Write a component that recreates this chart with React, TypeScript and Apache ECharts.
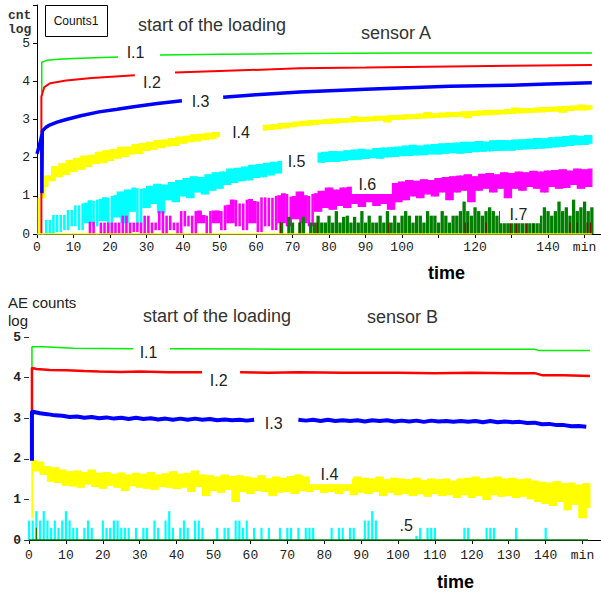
import React, { useEffect, useRef } from 'react';
import * as echarts from 'echarts';

// ================= TOP CHART (sensor A) =================
// minutes / log counts
const topL1Min = [1.3, 1.3, 2.7, 6, 10, 16, 22.2, 28, 33.7, 50, 72, 100, 152];
const topL1Val = [3.7, 4.5, 4.55, 4.58, 4.6, 4.62, 4.64, null, 4.69, 4.71, 4.73, 4.74, 4.74];

const topL2Min = [1.2, 1.2, 2, 3.6, 8, 15, 26.8, 32, 37.8, 50, 72, 90, 113, 130, 152];
const topL2Val = [0, 3.6, 3.85, 3.95, 4.02, 4.09, 4.16, null, 4.23, 4.27, 4.34, 4.36, 4.39, 4.41, 4.43];

const topL3Min = [0, 1, 1.3, 1.35, 1.45, 2.5, 3.6, 5.5, 8, 12, 17, 22, 26, 33, 39.7, 45, 51, 60, 72, 90, 113, 130, 140, 152];
const topL3Val = [2.1, 2.45, 2.6, 1.07, 2.7, 2.8, 2.86, 2.93, 3.0, 3.1, 3.2, 3.27, 3.33, 3.42, 3.49, null, 3.58, 3.65, 3.72, 3.79, 3.87, 3.9, 3.93, 3.96];

// one sample per minute, from minute 0 (alternating low / high edge of the noise)
const topL4Val = [
  0, 0.95, 1.25, 1.52, 1.4, 1.76, 1.5, 1.84, 1.56, 1.92,
  1.64, 1.98, 1.7, 2.04, 1.77, 2.06, 1.85, 2.14, 1.87, 2.18,
  1.93, 2.21, 1.99, 2.27, 2.03, 2.28, 2.1, 2.34, 2.11, 2.37,
  2.19, 2.4, 2.22, 2.45, 2.26, 2.46, 2.31, 2.5, 2.32, 2.54,
  2.38, 2.56, 2.42, 2.6, 2.44, 2.61, 2.47, 2.64, 2.5, 2.66,
  2.55, null, null, null, null, null, null, null, null, null,
  null, null, 2.72, 2.85, 2.74, 2.86, 2.76, 2.89, 2.78, 2.9,
  2.81, 2.93, 2.84, 2.95, 2.85, 2.97, 2.87, 2.98, 2.89, 2.99,
  2.9, 3.01, 2.91, 3.02, 2.93, 3.02, 2.94, 3.07, 2.95, 3.05,
  2.96, 3.06, 2.97, 3.08, 2.98, 3.08, 2.94, 3.1, 3.0, 3.1,
  3.01, 3.12, 3.02, 3.12, 3.03, 3.14, 3.04, 3.18, 3.05, 3.15,
  3.06, 3.17, 3.07, 3.18, 3.08, 3.18, 3.09, 3.2, 3.05, 3.21,
  3.11, 3.22, 3.12, 3.23, 3.13, 3.24, 3.14, 3.24, 3.15, 3.26,
  3.16, 3.3, 3.17, 3.28, 3.18, 3.28, 3.19, 3.3, 3.2, 3.31,
  3.21, 3.32, 3.22, 3.33, 3.19, 3.34, 3.24, 3.35, 3.25, 3.38,
  3.25, 3.36, 3.27,
];

// one sample per minute, from minute 0
const topL5Val = [
  0, 0, 0, 0.37, 0, 0.5, 0.05, 0.5, 0.1, 0.63,
  0.2, 0.75, 0.1, 0.8, 0.3, 0.87, 0.2, 0.9, 0.35, 0.95,
  0.1, 1.0, 0.45, 1.1, 0.3, 1.15, 0.6, 1.2, 0.2, 1.18,
  0.7, 1.25, 0.8, 1.3, 0.55, 1.28, 0.9, 1.35, 0.85, 1.4,
  1.0, 1.45, 0.95, 1.5, 1.1, 1.48, 1.05, 1.55, 1.15, 1.6,
  1.2, 1.62, 1.3, 1.7, 1.35, 1.72, 1.4, 1.75, 1.42, 1.8,
  1.48, 1.82, 1.5, 1.85, 1.55, 1.88, 1.6, 1.9, null, null,
  null, null, null, null, null, null, null, 2.12, 1.88, 2.14,
  1.9, 2.16, 1.9, 2.15, 1.93, 2.18, 1.95, 2.2, 1.96, 2.22,
  1.98, 2.2, 2.0, 2.24, 1.99, 2.25, 2.02, 2.26, 2.03, 2.28,
  2.05, 2.3, 2.06, 2.32, 2.07, 2.3, 2.08, 2.33, 2.1, 2.34,
  2.1, 2.36, 2.12, 2.37, 2.13, 2.38, 2.12, 2.4, 2.14, 2.4,
  2.16, 2.42, 2.17, 2.41, 2.18, 2.44, 2.19, 2.45, 2.2, 2.44,
  2.2, 2.46, 2.22, 2.47, 2.23, 2.48, 2.24, 2.5, 2.25, 2.49,
  2.26, 2.52, 2.28, 2.53, 2.3, 2.55, 2.32, 2.57, 2.34, 2.56,
  2.35, 2.58, 2.38,
];

// one sample per minute, from minute 14
const topL6Start = 14;
const topL6Val = [
  0, 0.32, 0, 0, 0.3, 0,
  0.3, 0, 0.3, 0, 0.48, 0, 0.3, 0.05, 0.3, 0,
  0.48, 0, 0.3, 0.1, 0.6, 0, 0.48, 0.1, 0.3, 0,
  0.6, 0.2, 0.48, 0, 0.6, 0.3, 0.48, 0, 0.6, 0.3,
  0.6, 0.1, 0.75, 0.3, 0.89, 0.2, 0.8, 0.1, 0.9, 0.3,
  0.85, 0.05, 0.96, 0.2, 0.95, 0.1, 1.0, 0.3, 1.05, 0.2,
  0.98, 0.4, 1.1, 0.3, 1.0, 0.2, 1.05, 0.6, 1.12, 0.7,
  1.2, 0.65, 1.15, 0.75, 1.2, 0.7, 1.22, 0.8, 1.2, 0.72,
  1.25, 0.85, 1.24, 0.75, 1.28, 0.8, 1.3, 0.65, 1.32, 0.85,
  1.36, 0.9, 1.4, 1.0, 1.38, 0.95, 1.42, 1.05, 1.4, 1.0,
  1.45, 1.1, 1.48, 0.9, 1.5, 1.1, 1.52, 1.15, 1.55, 0.85,
  1.5, 1.15, 1.56, 1.2, 1.58, 1.1, 1.55, 1.2, 1.6, 0.95,
  1.58, 1.2, 1.62, 1.15, 1.6, 1.25, 1.64, 1.2, 1.62, 1.1,
  1.65, 1.25, 1.66, 1.2, 1.68, 1.22, 1.65, 1.3, 1.7, 1.2,
  1.68, 1.25, 1.7,
];

// spikes from zero, one per minute, from minute 67
const topL7Start = 67;
const topL7Val = [
  0.3, 0, 0.45,
  0.3, 0, 0.3, 0.45, 0, 0.3, 0.3, 0.48, 0.3, 0.3,
  0.48, 0.3, 0.6, 0.3, 0.45, 0.48, 0.3, 0.45, 0.3, 0.6,
  0.3, 0.48, 0.3, 0.3, 0.48, 0.3, 0.6, 0.3, 0.48, 0.3,
  0.48, 0.6, 0.48, 0.3, 0.48, 0.48, 0.3, 0.6, 0.48, 0.48,
  0.3, 0.6, 0.48, 0.3, 0.48, 0.48, 0.6, 0.85, 0.6, 0.48,
  0.7, 0.6, 0.48, 0.6, 0.7, 0.6, 0.48, 0.6, 0.48, 0.6,
  0.6, 0.48, 0.6, 0.48, 0.6, 0.48, 0.6, 0.6, 0.48, 0.7,
  0.6, 0.48, 0.6, 0.85, 0.6, 0.7, 0.48, 0.9, 0.6, 0.7,
  0.85, 0.6, 0.7,
];

const topL8Min = [66.6, 72, 76.7, 96.4, 117.3, 118, 123, 129.6, 131.4, 134.2, 136, 146, 148, 150.7, 151.6];
const topL8Val = [0.3, 0.3, 0.3, 0.3, 0.3, 0.3, 0.3, 0.3, 0.3, 0.3, 0.3, 0.3, 0.3, 0.3, 0.3];

const topZeroMin = [0, 152];
const topZeroVal = [0, 0];

const topLabelText = ['I.1', 'I.2', 'I.3', 'I.4', 'I.5', 'I.6', 'I.7'];
const topLabelMin = [27.0, 31.5, 44.8, 55.9, 71.1, 90.5, 131.9];
const topLabelVal = [4.76, 3.98, 3.47, 2.67, 1.91, 1.31, 0.52];

const topXTicks = ['0', '10', '20', '30', '40', '50', '60', '70', '80', '90', '100', '', '120', '', '140', 'min'];
const topYTicks = ['0', '1', '2', '3', '4', '5', ''];

// ================= BOTTOM CHART (sensor B) =================
const botL1Min = [0.8, 0.8, 4, 8, 12, 28.2, 33, 38.2, 70, 100, 137, 138, 152];
const botL1Val = [4.2, 4.76, 4.76, 4.74, 4.72, 4.71, null, 4.71, 4.7, 4.7, 4.7, 4.67, 4.67];

const botL2Min = [0.8, 0.8, 2, 5.7, 10, 15, 19, 25, 30, 38, 46.9, 52, 57.2, 65, 73, 85, 100, 110, 120, 130, 137, 139, 145, 152];
const botL2Val = [3.15, 4.24, 4.21, 4.19, 4.18, 4.16, 4.15, 4.14, 4.15, 4.13, 4.13, null, 4.13, 4.12, 4.13, 4.12, 4.12, 4.11, 4.12, 4.11, 4.11, 4.06, 4.06, 4.04];

const botL3HeadMin = [0.8, 0.8];
const botL3HeadVal = [1.95, 3.15];
// one sample every 2 minutes, from minute 1
const botL3Val = [
  3.16, 3.12, 3.1, 3.07, 3.06, 3.03, 3.04, 3.01, 3.03, 3.0,
  3.02, 2.99, 3.01, 2.98, 3.01, 2.98, 3.0, 2.97, 2.99, 2.96,
  2.99, 2.96, 2.99, 2.96, 2.98, 2.95, 2.97, 2.95, 2.96, 2.94,
  2.96, null, null, null, null, null, 2.96, 2.94, 2.96, 2.93,
  2.96, 2.93, 2.95, 2.93, 2.95, 2.92, 2.95, 2.93, 2.95, 2.92,
  2.94, 2.92, 2.94, 2.91, 2.94, 2.92, 2.93, 2.91, 2.93, 2.91,
  2.93, 2.9, 2.93, 2.9, 2.92, 2.9, 2.91, 2.88, 2.89, 2.85,
  2.86, 2.83, 2.83, 2.8, 2.81, 2.79,
];

const botL4HeadMin = [0.8, 0.8];
const botL4HeadVal = [0.55, 1.9];
// one sample per minute, from minute 1
const botL4Val = [
  1.95, 1.7, 1.92, 1.62, 1.8, 1.45, 1.78, 1.42, 1.72, 1.35,
  1.68, 1.33, 1.7, 1.3, 1.66, 1.38, 1.72, 1.32, 1.64, 1.28,
  1.66, 1.35, 1.62, 1.3, 1.65, 1.22, 1.6, 1.34, 1.64, 1.3,
  1.62, 1.28, 1.66, 1.25, 1.6, 1.32, 1.63, 1.3, 1.68, 1.27,
  1.62, 1.3, 1.64, 1.2, 1.7, 1.32, 1.6, 1.1, 1.58, 1.22,
  1.55, 1.18, 1.6, 1.25, 1.56, 0.95, 1.58, 1.2, 1.55, 1.15,
  1.52, 1.22, 1.58, 1.2, 1.5, 1.1, 1.55, 1.18, 1.52, 1.2,
  1.56, 1.15, 1.6, 1.22, 1.55, 1.2, 1.5, 1.25, 1.52, 1.18,
  1.55, 1.2, 1.5, 1.15, 1.58, 1.22, 1.5, 1.12, 1.55, 1.18,
  1.52, 1.15, 1.5, 1.2, 1.55, 1.1, 1.48, 1.18, 1.52, 1.12,
  1.5, 1.15, 1.48, 1.1, 1.52, 1.14, 1.46, 1.08, 1.5, 1.15,
  1.48, 1.1, 1.5, 1.12, 1.45, 1.05, 1.5, 1.12, 1.52, 1.05,
  1.55, 1.1, 1.5, 1.0, 1.52, 1.12, 1.55, 1.08, 1.5, 1.1,
  1.52, 1.05, 1.48, 1.08, 1.5, 1.02, 1.45, 0.95, 1.42, 0.9,
  1.4, 0.85, 1.43, 0.95, 1.38, 0.75, 1.4, 0.88, 1.35, 0.55, 1.38, 0.8,
];

// spikes from zero, one per minute, from minute 0
const botL5Val = [
  0.48, 0.48, 0.71, 0.48, 0.71, 0.48, 0.3, 0.48, 0.3, 0.48,
  0.71, 0.48, 0.3, 0.3, 0, 0.3, 0.48, 0.3, 0, 0,
  0.48, 0.3, 0.3, 0.48, 0.48, 0.3, 0.3, 0.3, 0, 0.3,
  0, 0.3, 0.3, 0, 0.48, 0.3, 0, 0.48, 0.71, 0.3,
  0, 0.3, 0.48, 0.3, 0, 0.48, 0.48, 0.3, 0, 0,
  0, 0.3, 0, 0.3, 0.3, 0, 0.48, 0.48, 0.3, 0.48,
  0, 0.3, 0, 0.3, 0, 0.3, 0, 0, 0.3, 0,
  0.3, 0.3, 0, 0.3, 0, 0.3, 0.3, 0.3, 0, 0,
  0, 0, 0.3, 0, 0.3, 0.3, 0, 0.3, 0.3, 0,
  0, 0.48, 0.48, 0.71, 0.48, 0, 0, 0, 0, 0,
  0, 0, 0, 0, 0, 0.1, 0.3, 0, 0.3, 0.3,
  0.3, 0, 0, 0, 0, 0, 0, 0, 0.3, 0.3,
  0, 0, 0, 0, 0.3, 0.3, 0.3, 0, 0, 0,
  0, 0, 0.3, 0, 0, 0, 0, 0, 0, 0,
  0.3, 0, 0, 0, 0, 0, 0, 0, 0, 0,
  0, 0, 0,
];

const botL7Min = [2.0];
const botL7Val = [0.3];

const botZeroMin = [0, 151.5];
const botZeroVal = [0, 0];

const botLabelText = ['I.1', 'I.2', 'I.3', 'I.4', '.5'];
const botLabelMin = [32.4, 51.4, 66.3, 81.4, 102.2];
const botLabelVal = [4.62, 3.94, 2.86, 1.61, 0.345];

const botXTicks = ['0', '10', '20', '30', '40', '50', '60', '70', '80', '90', '100', '110', '120', '130', '140', 'min'];
const botYTicks = ['0', '1', '2', '3', '4', '5'];

// ================= helpers =================
type Pt = [number, number | null];
const pairs = (xs: number[], ys: (number | null)[]): Pt[] => xs.map((x, i) => [x, ys[i]]);
const seq = (start: number, step: number, ys: (number | null)[]): Pt[] => ys.map((y, i) => [start + i * step, y]);
// attach the previous sample to each sample, so the noise between two samples can be drawn
const withPrev = (pts: Pt[]) =>
  pts.map((p, i) => [p[0], p[1], i > 0 ? pts[i - 1][0] : null, i > 0 ? pts[i - 1][1] : null]);

const SANS = 'Liberation Sans, Arial, sans-serif';
const MONO = 'Liberation Mono, Courier New, monospace';

const line = (name: string, data: any[], color: string, width: number, gi: number) => ({
  type: 'line',
  name,
  data,
  xAxisIndex: gi,
  yAxisIndex: gi,
  symbol: 'none',
  showSymbol: false,
  connectNulls: false,
  silent: true,
  lineStyle: { color, width },
  itemStyle: { color },
});

const bad = (x: any) => x == null || typeof x !== 'number' || isNaN(x);

// noisy signal: each pair of consecutive samples is drawn as a filled strip between them
const noise = (name: string, pts: Pt[], color: string, gapBelow: number, gi: number) => ({
  type: 'custom',
  name,
  data: withPrev(pts),
  xAxisIndex: gi,
  yAxisIndex: gi,
  encode: { x: 0, y: 1 },
  silent: true,
  itemStyle: { color },
  renderItem: (_params: any, api: any) => {
    const m = api.value(0);
    const v = api.value(1);
    const pm = api.value(2);
    const pv = api.value(3);
    if (bad(m) || bad(v) || bad(pm) || bad(pv)) return null;
    const lo = Math.min(v, pv);
    const hi = Math.max(v, pv);
    const a = api.coord([pm, hi]);
    const b = api.coord([m, lo]);
    let x0 = a[0];
    let x1 = b[0];
    const narrow = lo < gapBelow;
    if (narrow) {
      const c = (x0 + x1) / 2;
      const w = (x1 - x0) * 0.7;
      x0 = c - w / 2;
      x1 = c + w / 2;
    }
    return {
      type: 'rect',
      shape: { x: x0, y: a[1], width: Math.max(0.8, x1 - x0), height: Math.max(0.5, b[1] - a[1]) },
      style: narrow ? { fill: color } : { fill: color, stroke: color, lineWidth: 1.2 },
    };
  },
});

const spikes = (name: string, pts: Pt[], color: string, w: number, gi: number) => ({
  type: 'custom',
  name,
  data: pts,
  xAxisIndex: gi,
  yAxisIndex: gi,
  encode: { x: 0, y: 1 },
  silent: true,
  itemStyle: { color },
  renderItem: (_params: any, api: any) => {
    const m = api.value(0);
    const v = api.value(1);
    if (bad(m) || bad(v)) return null;
    const p0 = api.coord([m, 0]);
    const p1 = api.coord([m, v]);
    return {
      type: 'rect',
      shape: { x: p0[0] - w / 2, y: p1[1], width: w, height: Math.max(0, p0[1] - p1[1]) },
      style: { fill: color },
    };
  },
});

// white boxes behind some labels: [left, right, top, bottom] extents (px) around the text centre
const boxes: Record<string, number[]> = {
  'top:I.6': [15.5, 24.5, 6, 10],
  'top:I.7': [18.5, 21.5, 9, 9],
  'bot:I.4': [19.5, 22.5, 11.5, 9.5],
};

const labels = (key: string, texts: string[], xs: number[], ys: number[], gi: number) => ({
  type: 'custom',
  xAxisIndex: gi,
  yAxisIndex: gi,
  encode: { x: 0, y: 1 },
  silent: true,
  z: 10,
  data: texts.map((_t, i) => [xs[i], ys[i], i]),
  renderItem: (_params: any, api: any) => {
    const p = api.coord([api.value(0), api.value(1)]);
    const t = texts[api.value(2)];
    const box = boxes[key + ':' + t];
    const children: any[] = [];
    if (box) {
      children.push({
        type: 'rect',
        shape: { x: p[0] - box[0], y: p[1] - box[2], width: box[0] + box[1], height: box[2] + box[3] },
        style: { fill: '#ffffff' },
      });
    }
    children.push({
      type: 'text',
      x: p[0],
      y: p[1],
      style: { text: t, font: `16px ${SANS}`, fill: '#222', align: 'center', verticalAlign: 'middle' },
    });
    return { type: 'group', children };
  },
});

const tickLabelStyle = { fontFamily: MONO, fontSize: 13, color: '#222' };

const option: any = {
  animation: false,
  backgroundColor: '#ffffff',
  grid: [
    { left: 37, top: 5, width: 564, height: 229 },
    { left: 29, top: 337, width: 572, height: 203 },
  ],
  xAxis: [
    {
      type: 'value', gridIndex: 0, min: 0, max: 154.5, interval: 10,
      axisLine: { show: true, onZero: false, lineStyle: { color: '#000', width: 1 } },
      axisTick: { show: true, length: 4, lineStyle: { color: '#000' } },
      axisLabel: {
        ...tickLabelStyle, margin: 7, showMaxLabel: false,
        formatter: (v: number) => (v % 10 === 0 ? topXTicks[v / 10] ?? '' : ''),
      },
      splitLine: { show: false },
    },
    {
      type: 'value', gridIndex: 1, min: 0, max: 155, interval: 10,
      axisLine: { show: true, onZero: false, lineStyle: { color: '#000', width: 1 } },
      axisTick: { show: true, length: 4, lineStyle: { color: '#000' } },
      axisLabel: {
        ...tickLabelStyle, margin: 9, showMaxLabel: false,
        formatter: (v: number) => (v % 10 === 0 ? botXTicks[v / 10] ?? '' : ''),
      },
      splitLine: { show: false },
    },
  ],
  yAxis: [
    {
      type: 'value', gridIndex: 0, min: 0, max: 6, interval: 1,
      axisLine: { show: true, onZero: false, lineStyle: { color: '#000', width: 1 } },
      axisTick: { show: true, length: 4, lineStyle: { color: '#000' } },
      axisLabel: { ...tickLabelStyle, margin: 7, formatter: (v: number) => topYTicks[v] ?? '' },
      splitLine: { show: false },
    },
    {
      type: 'value', gridIndex: 1, min: 0, max: 5, interval: 1,
      axisLine: { show: false },
      axisTick: { show: true, length: 5, lineStyle: { color: '#333' } },
      axisLabel: { ...tickLabelStyle, margin: 8, fontWeight: 'bold', formatter: (v: number) => botYTicks[v] ?? '' },
      splitLine: { show: false },
    },
  ],
  graphic: [
    { type: 'rect', shape: { x: 45.5, y: 5.5, width: 62, height: 31 }, style: { fill: '#fff', stroke: '#000', lineWidth: 1 } },
    { type: 'text', x: 76, y: 21, style: { text: 'Counts1', font: `12px ${SANS}`, fill: '#111', align: 'center', verticalAlign: 'middle' } },
    { type: 'text', x: 8, y: 15, style: { text: 'cnt', font: `bold 13px ${MONO}`, fill: '#333', verticalAlign: 'middle' } },
    { type: 'text', x: 8, y: 29, style: { text: 'log', font: `bold 13px ${MONO}`, fill: '#333', verticalAlign: 'middle' } },
    { type: 'text', x: 138, y: 25, style: { text: 'start of the loading', font: `18px ${SANS}`, fill: '#333', verticalAlign: 'middle' } },
    { type: 'text', x: 361, y: 33, style: { text: 'sensor A', font: `18px ${SANS}`, fill: '#333', verticalAlign: 'middle' } },
    { type: 'text', x: 446.5, y: 273, style: { text: 'time', font: `bold 18px ${SANS}`, fill: '#000', align: 'center', verticalAlign: 'middle' } },
    { type: 'text', x: 8, y: 302, style: { text: 'AE counts', font: `15px ${SANS}`, fill: '#222', verticalAlign: 'middle' } },
    { type: 'text', x: 8, y: 320, style: { text: 'log', font: `15px ${SANS}`, fill: '#222', verticalAlign: 'middle' } },
    { type: 'text', x: 143, y: 316, style: { text: 'start of the loading', font: `18px ${SANS}`, fill: '#333', verticalAlign: 'middle' } },
    { type: 'text', x: 367, y: 317, style: { text: 'sensor B', font: `18px ${SANS}`, fill: '#333', verticalAlign: 'middle' } },
    { type: 'text', x: 455.5, y: 582, style: { text: 'time', font: `bold 18px ${SANS}`, fill: '#000', align: 'center', verticalAlign: 'middle' } },
  ],
  series: [
    // top
    line('A I.1', pairs(topL1Min, topL1Val), '#00ee00', 1.5, 0),
    line('A I.2', pairs(topL2Min, topL2Val), '#ff0000', 2, 0),
    line('A I.3', pairs(topL3Min, topL3Val), '#0000ff', 3.5, 0),
    noise('A I.4', seq(0, 1, topL4Val), '#ffff00', 0.05, 0),
    noise('A I.5', seq(0, 1, topL5Val), '#00ffff', 0.25, 0),
    noise('A I.6', seq(topL6Start, 1, topL6Val), '#ff00ff', 0.25, 0),
    spikes('A I.7', seq(topL7Start, 1, topL7Val), '#008000', 3.3, 0),
    spikes('A I.8', pairs(topL8Min, topL8Val), '#8b0000', 1.2, 0),
    line('A zero', pairs(topZeroMin, topZeroVal), '#ffff00', 1.5, 0),
    labels('top', topLabelText, topLabelMin, topLabelVal, 0),
    // bottom
    line('B I.1', pairs(botL1Min, botL1Val), '#00ee00', 1.5, 1),
    line('B I.2', pairs(botL2Min, botL2Val), '#ff0000', 2.5, 1),
    line('B I.3', [...pairs(botL3HeadMin, botL3HeadVal), ...seq(1, 2, botL3Val)], '#0000ff', 4, 1),
    noise('B I.4', [...pairs(botL4HeadMin, botL4HeadVal), ...seq(1, 1, botL4Val)], '#ffff00', 0, 1),
    spikes('B I.5', seq(0, 1, botL5Val), '#00ffff', 2.2, 1),
    line('B zero', pairs(botZeroMin, botZeroVal), '#008000', 1.5, 1),
    spikes('B I.7', pairs(botL7Min, botL7Val), '#008000', 1.2, 1),
    labels('bot', botLabelText, botLabelMin, botLabelVal, 1),
  ],
};

export default function App() {
  const ref = useRef<HTMLDivElement>(null);
  useEffect(() => {
    const chart = echarts.init(ref.current as HTMLDivElement, null, { renderer: 'svg' });
    chart.setOption(option);
    return () => chart.dispose();
  }, []);
  return (
    <div
      ref={ref}
      style={{ position: 'fixed', left: 0, top: 0, width: 601, height: 594, background: '#fff' }}
    />
  );
}
